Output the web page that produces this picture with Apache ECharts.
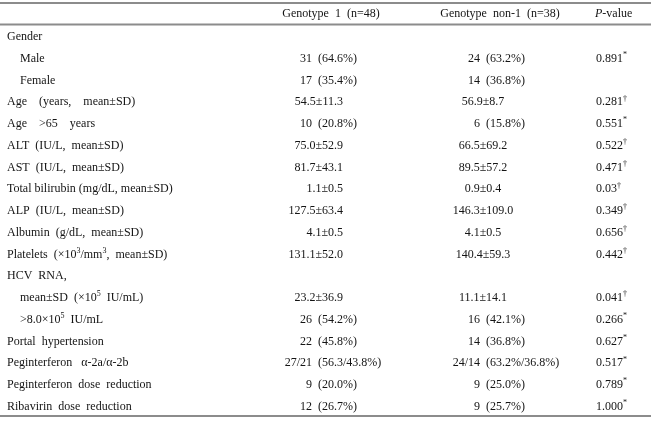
<!DOCTYPE html>
<html>
<head>
<meta charset="utf-8">
<script src="https://cdn.jsdelivr.net/npm/echarts@6/dist/echarts.min.js"></script>
<style>
html,body{margin:0;padding:0;background:#fff;}
#chart{width:657px;height:421px;}
</style>
</head>
<body>
<div id="chart"></div>
<script>
// ---- data ----
var headers = ['Genotype  1  (n=48)', 'Genotype  non-1  (n=38)', 'P-value'];
var rowLabels = [
  'Gender', 'Male', 'Female', 'Age    (years,    mean±SD)', 'Age    >65    years',
  'ALT  (IU/L,  mean±SD)', 'AST  (IU/L,  mean±SD)', 'Total bilirubin (mg/dL, mean±SD)',
  'ALP  (IU/L,  mean±SD)', 'Albumin  (g/dL,  mean±SD)', 'Platelets  (×10^3/mm^3,  mean±SD)',
  'HCV  RNA,', 'mean±SD  (×10^5  IU/mL)', '>8.0×10^5  IU/mL', 'Portal  hypertension',
  'Peginterferon   α-2a/α-2b', 'Peginterferon  dose  reduction', 'Ribavirin  dose  reduction'
];
var rowIndent = [0,1,1,0,0,0,0,0,0,0,0,0,1,1,0,0,0,0];
var genotype1 = ['', '31 (64.6%)', '17 (35.4%)', '54.5±11.3', '10 (20.8%)', '75.0±52.9', '81.7±43.1',
  '1.1±0.5', '127.5±63.4', '4.1±0.5', '131.1±52.0', '', '23.2±36.9', '26 (54.2%)', '22 (45.8%)',
  '27/21 (56.3/43.8%)', '9 (20.0%)', '12 (26.7%)'];
var genotypeNon1 = ['', '24 (63.2%)', '14 (36.8%)', '56.9±8.7', '6 (15.8%)', '66.5±69.2', '89.5±57.2',
  '0.9±0.4', '146.3±109.0', '4.1±0.5', '140.4±59.3', '', '11.1±14.1', '16 (42.1%)', '14 (36.8%)',
  '24/14 (63.2%/36.8%)', '9 (25.0%)', '9 (25.7%)'];
var pValues = ['', '0.891', '', '0.281', '0.551', '0.522', '0.471', '0.03', '0.349', '0.656', '0.442',
  '', '0.041', '0.266', '0.627', '0.517', '0.789', '1.000'];
var pMarks = ['', '*', '', '†', '*', '†', '†', '†', '†', '†', '†', '', '†', '*', '*', '*', '*', '*'];

// ---- layout ----
var FONT = "'Liberation Serif', 'Times New Roman', serif";
var TXT = '#141414';
var RULE = '#8c8c8c';
var W = 657, H = 421;
var X_LABEL = 7, X_INDENT = 20;
var C1_PAREN = 318, C1_RIGHT = 343;
var C2_PAREN = 486, C2_CENTER = 483;
var C3_LEFT = 596;
var HEAD_Y = 14;

var rich = {
  s: { fontSize: 8, fontFamily: FONT, fill: TXT, padding: [0, 0, 7, 0] },
  i: { fontSize: 12, fontFamily: FONT, fill: TXT, fontStyle: 'italic' }
};
function sup(str) { return str.replace(/\^(\S)/g, '{s|$1}'); }

function textEl(x, y, text, align) {
  return {
    type: 'text',
    style: {
      x: x, y: y, text: text, fill: TXT, fontSize: 12, fontFamily: FONT,
      align: align, verticalAlign: 'middle', rich: rich
    }
  };
}

function cellEls(val, api, y, parenX, meanX, meanAlign) {
  var els = [];
  if (!val) return els;
  var k = val.indexOf(' (');
  if (k >= 0) {
    els.push(textEl(api.coord([parenX - 6, 0])[0], y, val.slice(0, k), 'right'));
    els.push(textEl(api.coord([parenX, 0])[0], y, val.slice(k + 1), 'left'));
  } else {
    els.push(textEl(api.coord([meanX, 0])[0], y, val, meanAlign));
  }
  return els;
}

var chart = echarts.init(document.getElementById('chart'), null, { renderer: 'canvas' });
var option = {
  animation: false,
  backgroundColor: '#fff',
  grid: { left: 0, right: 0, top: 26, bottom: 3.5 },
  xAxis: { type: 'value', min: 0, max: W, show: false },
  yAxis: { type: 'category', data: rowLabels, inverse: true, show: false },
  graphic: [
    { type: 'line', shape: { x1: 0, y1: 3, x2: 651, y2: 3 }, style: { stroke: RULE, lineWidth: 2 } },
    { type: 'line', shape: { x1: 0, y1: 24.5, x2: 651, y2: 24.5 }, style: { stroke: RULE, lineWidth: 2 } },
    { type: 'line', shape: { x1: 0, y1: 416, x2: 651, y2: 416 }, style: { stroke: RULE, lineWidth: 2 } },
    { type: 'text', style: { x: 331, y: HEAD_Y, text: headers[0], fill: TXT, fontSize: 12, fontFamily: FONT, align: 'center', verticalAlign: 'middle' } },
    { type: 'text', style: { x: 500, y: HEAD_Y, text: headers[1], fill: TXT, fontSize: 12, fontFamily: FONT, align: 'center', verticalAlign: 'middle' } },
    { type: 'text', style: { x: 595, y: HEAD_Y, text: '{i|' + headers[2].charAt(0) + '}' + headers[2].slice(1), fill: TXT, fontSize: 12, fontFamily: FONT, align: 'left', verticalAlign: 'middle', rich: rich } }
  ],
  series: [{
    type: 'custom',
    silent: true,
    clip: false,
    data: rowLabels.map(function (_, i) { return [0, i]; }),
    encode: { x: 0, y: 1 },
    renderItem: function (params, api) {
      var i = api.value(1);
      var y = api.coord([0, i])[1];
      var children = [];
      var lx = api.coord([rowIndent[i] ? X_INDENT : X_LABEL, i])[0];
      children.push(textEl(lx, y, sup(rowLabels[i]), 'left'));
      children = children.concat(cellEls(genotype1[i], api, y, C1_PAREN, C1_RIGHT, 'right'));
      children = children.concat(cellEls(genotypeNon1[i], api, y, C2_PAREN, C2_CENTER, 'center'));
      if (pValues[i]) {
        children.push(textEl(api.coord([C3_LEFT, i])[0], y, pValues[i] + '{s|' + pMarks[i] + '}', 'left'));
      }
      return { type: 'group', children: children };
    }
  }]
};
chart.setOption(option);
</script>
</body>
</html>
